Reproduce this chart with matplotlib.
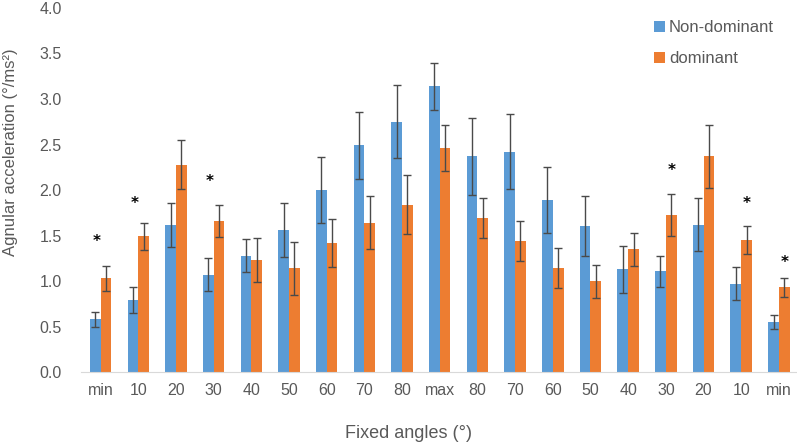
import numpy as np
import matplotlib.pyplot as plt

plt.rcParams['font.family'] = ['Liberation Sans', 'DejaVu Sans']

# values
angles = ['min', '10', '20', '30', '40', '50', '60', '70', '80', 'max',
          '80', '70', '60', '50', '40', '30', '20', '10', 'min']
non_dom = [0.58, 0.79, 1.62, 1.07, 1.28, 1.56, 2.00, 2.49, 2.75, 3.14,
           2.37, 2.42, 1.89, 1.61, 1.13, 1.11, 1.62, 0.97, 0.55]
non_dom_err = [0.08, 0.14, 0.24, 0.18, 0.18, 0.30, 0.36, 0.37, 0.40, 0.26,
               0.42, 0.41, 0.36, 0.33, 0.26, 0.17, 0.29, 0.18, 0.08]
dom = [1.03, 1.49, 2.28, 1.66, 1.23, 1.14, 1.42, 1.64, 1.84, 2.46,
       1.69, 1.44, 1.14, 1.00, 1.35, 1.73, 2.37, 1.45, 0.93]
dom_err = [0.135, 0.15, 0.27, 0.18, 0.24, 0.29, 0.26, 0.29, 0.32, 0.25,
           0.22, 0.22, 0.22, 0.18, 0.18, 0.23, 0.35, 0.15, 0.10]

# significance markers: (category index, side, height)
star_idx = [0, 1, 3, 15, 17, 18]
star_side = [-1, -1, -1, 1, 1, 1]
star_y = [1.43, 1.85, 2.09, 2.21, 1.85, 1.20]

blue = '#5B9BD5'
orange = '#ED7D31'
grey = '#595959'

fig = plt.figure(figsize=(7.97, 4.42), dpi=100)
ax = fig.add_axes([0.1016, 0.158, 0.8984, 0.824])

x = np.arange(len(angles))
w = 0.285
err_kw = dict(ecolor='#4a4a4a', elinewidth=1.0, capsize=3, capthick=1.0)
ax.bar(x - w / 2, non_dom, w, yerr=non_dom_err, color=blue,
       label='Non-dominant', error_kw=err_kw)
ax.bar(x + w / 2, dom, w, yerr=dom_err, color=orange,
       label='dominant', error_kw=err_kw)

for i, s, yy in zip(star_idx, star_side, star_y):
    xs = i - 0.1 if s < 0 else i + w / 2
    ax.text(xs, yy, '*', ha='center', va='center', fontsize=11,
            color='black', family='DejaVu Sans', fontweight='bold')

ax.set_xlim(-0.52, 18.48)
ax.set_ylim(0, 4.0)
ax.set_yticks(np.arange(0, 4.01, 0.5))
ax.set_yticklabels([f'{v:.1f}' for v in np.arange(0, 4.01, 0.5)])
ax.set_xticks(x)
ax.set_xticklabels(angles)
ax.tick_params(axis='both', length=0, labelsize=11.5, labelcolor=grey)
ax.tick_params(axis='x', pad=8)
ax.tick_params(axis='y', pad=14)

for side in ['top', 'right', 'left']:
    ax.spines[side].set_visible(False)
ax.spines['bottom'].set_color('#D9D9D9')

ax.set_xlabel('Fixed angles (°)', fontsize=13, color=grey)
ax.xaxis.set_label_coords(0.457, -0.168)
ax.xaxis.label.set_verticalalignment('center')
ax.set_ylabel('Agnular acceleration (°/ms²)', fontsize=12, color=grey)
ax.yaxis.set_label_coords(-0.098, 0.604)
ax.yaxis.label.set_verticalalignment('center')

leg = ax.legend(loc='upper left', bbox_to_anchor=(0.80, 0.966), frameon=False,
                fontsize=12, handlelength=0.65, handleheight=0.65,
                handletextpad=0.25, labelspacing=0.95, borderpad=0,
                borderaxespad=0)
for t in leg.get_texts():
    t.set_color(grey)

fig.savefig('out.png', dpi=100)
